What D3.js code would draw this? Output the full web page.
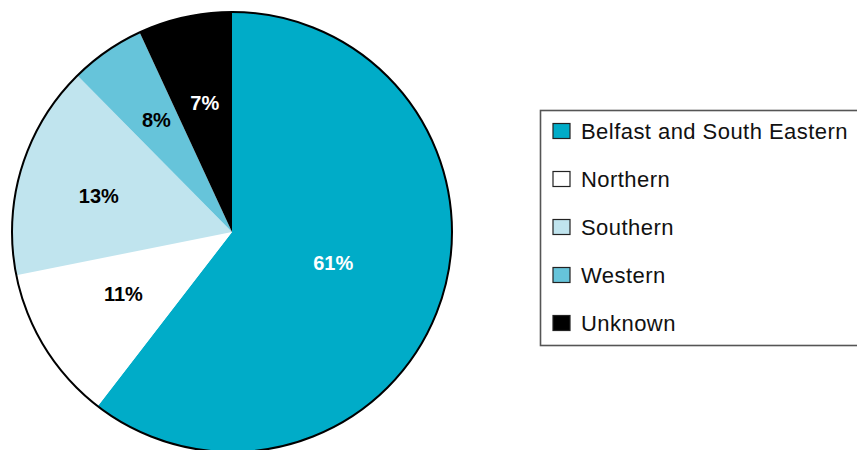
<!DOCTYPE html>
<html>
<head>
<meta charset="utf-8">
<script src="https://cdn.jsdelivr.net/npm/d3@7"></script>
<style>
  html, body { margin: 0; padding: 0; background: #fff; }
  svg { display: block; }
  text { font-family: "Liberation Sans", Arial, Helvetica, sans-serif; }
</style>
</head>
<body>
<svg id="chart" width="857" height="450"></svg>
<script>
// ---- data ----
const categories = ["Belfast and South Eastern", "Northern", "Southern", "Western", "Unknown"];
// slice sizes as drawn in the picture (percent of the circle)
const values = [60.45, 11.4, 15.75, 5.5, 6.9];
// printed labels
const labels = ["61%", "11%", "13%", "8%", "7%"];
const colors = ["#00acc8", "#ffffff", "#c0e4ee", "#66c4da", "#000000"];
const labelColors = ["#ffffff", "#000000", "#000000", "#000000", "#ffffff"];

// ---- layout ----
const svg = d3.select("#chart");
const cx = 232, cy = 232, R = 220;

// label placement: distance from centre and angular tweak (degrees)
const labelPlace = [
  { d: 106, da: -1.6 },
  { d: 125, da: 2.2 },
  { d: 138, da: -1.85 },
  { d: 135, da: 0.7 },
  { d: 132, da: 0.5 }
];

const pie = d3.pie().sort(null).value(d => d)(values);
const arc = d3.arc().innerRadius(0).outerRadius(R);

const g = svg.append("g").attr("transform", `translate(${cx},${cy})`);

g.selectAll("path.slice")
  .data(pie)
  .join("path")
  .attr("class", "slice")
  .attr("d", arc)
  .attr("fill", (d, i) => colors[i]);

g.append("circle")
  .attr("r", R)
  .attr("fill", "none")
  .attr("stroke", "#000")
  .attr("stroke-width", 2);

function labelAngle(d, i) {
  return (d.startAngle + d.endAngle) / 2 + labelPlace[i].da * Math.PI / 180;
}

g.selectAll("text.lbl")
  .data(pie)
  .join("text")
  .attr("class", "lbl")
  .attr("x", (d, i) => labelPlace[i].d * Math.sin(labelAngle(d, i)))
  .attr("y", (d, i) => -labelPlace[i].d * Math.cos(labelAngle(d, i)))
  .attr("text-anchor", "middle")
  .attr("dominant-baseline", "central")
  .attr("font-size", 20)
  .attr("font-weight", "bold")
  .attr("fill", (d, i) => labelColors[i])
  .text((d, i) => labels[i]);

// ---- legend ----
const lg = svg.append("g");
lg.append("rect")
  .attr("x", 540.5).attr("y", 110.5)
  .attr("width", 340).attr("height", 235)
  .attr("fill", "#fff")
  .attr("stroke", "#555")
  .attr("stroke-width", 1.6);

const rowY = d3.scalePoint().domain(categories).range([131, 323]);

const rows = lg.selectAll("g.row")
  .data(categories)
  .join("g")
  .attr("class", "row")
  .attr("transform", d => `translate(0,${rowY(d)})`);

rows.append("rect")
  .attr("x", 553).attr("y", -7.5)
  .attr("width", 17).attr("height", 15)
  .attr("fill", (d, i) => colors[i])
  .attr("stroke", "#222")
  .attr("stroke-width", 1.2);

rows.append("text")
  .attr("x", 581)
  .attr("y", 0)
  .attr("dominant-baseline", "central")
  .attr("font-size", 22)
  .attr("letter-spacing", 0.45)
  .attr("fill", "#111")
  .text(d => d);
</script>
</body>
</html>
